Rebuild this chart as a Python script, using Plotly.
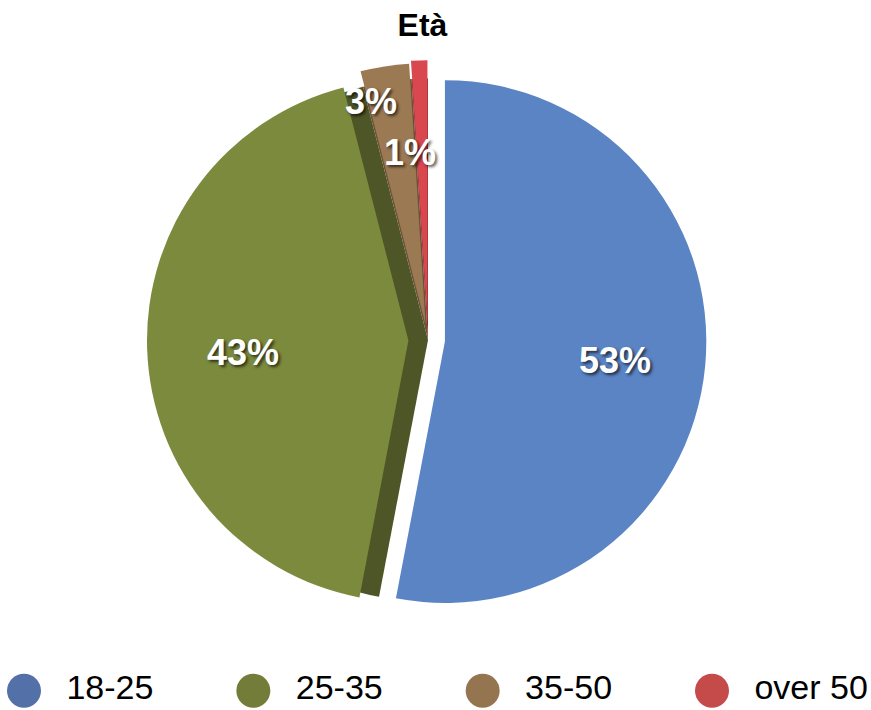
import math
import plotly.graph_objects as go

# ---- data ----
categories = ["18-25", "25-35", "35-50", "over 50"]
values = [53, 43, 3, 1]
title_text = "Età"

# ---- style ----
face_colors = ["#5b84c5", "#7c8a3d", "#9b7a53", "#d9474f"]
side_colors = ["rgba(0,0,0,0)", "#4e5627", "#6b5235", "#8c2b31"]
legend_colors = ["#5470a8", "#737c38", "#957450", "#c54a4a"]
pulls = [0.065, 0.075, 0.06, 0.07]

W, H = 871, 710
cx_px, cy_px = 428, 340
half = 281
dom_x = [(cx_px - half) / W, (cx_px + half) / W]
dom_y = [1 - (cy_px + half) / H, 1 - (cy_px - half) / H]
R = half / (1 + max(pulls))

shadow = "2px 2px 3px rgba(0,0,0,0.65)"
lab_font = dict(family="Liberation Sans", size=36, color="white", weight="bold", shadow=shadow)

fig = go.Figure()

# back (extrusion side) pie
fig.add_trace(go.Pie(
    labels=categories, values=values, sort=False, direction="clockwise", rotation=0,
    marker=dict(colors=side_colors, line=dict(width=0)),
    pull=[max(pulls), 0, 0, 0], textinfo="none", hoverinfo="skip",
    domain=dict(x=dom_x, y=dom_y), showlegend=False,
))

# front pie
fig.add_trace(go.Pie(
    labels=categories, values=values, sort=False, direction="clockwise", rotation=0,
    marker=dict(colors=face_colors, line=dict(width=0)),
    pull=pulls, textinfo="none", hoverinfo="label+percent",
    domain=dict(x=dom_x, y=dom_y), showlegend=False,
))

# percentage labels, placed from each slice's mid angle
total = sum(values)
cum = 0
label_place = {0: (1.0, 0.72), 1: (-2.0, 0.71), 2: (-4.5, 0.94), 3: (-3.8, 0.72)}
annotations = []
for i, v in enumerate(values):
    mid = (cum + v / 2) / total * 360
    cum += v
    dang, rf = label_place[i]
    th = math.radians(mid + dang)
    x = (cx_px + rf * R * math.sin(th)) / W
    y = 1 - (cy_px - rf * R * math.cos(th)) / H
    annotations.append(dict(
        x=x, y=y, xref="paper", yref="paper", showarrow=False,
        text=f"{round(v / total * 100)}%", font=lab_font,
        xanchor="center", yanchor="middle",
    ))

# legend drawn as a row of circles with labels
idx = list(range(len(categories)))
fig.add_trace(go.Scatter(
    x=idx, y=[0] * len(idx), mode="markers",
    marker=dict(size=34, color=legend_colors, symbol="circle", line=dict(width=0)),
    xaxis="x", yaxis="y", hoverinfo="skip", showlegend=False,
))
fig.add_trace(go.Scatter(
    x=[i + 0.185 for i in idx], y=[0] * len(idx), mode="text",
    text=categories, textposition="middle right",
    textfont=dict(family="Liberation Sans", size=34, color="black"),
    xaxis="x", yaxis="y", hoverinfo="skip", showlegend=False,
))

px_per_unit = (712 - 24) / 3
fig.update_layout(
    width=W, height=H,
    margin=dict(l=0, r=0, t=0, b=0),
    paper_bgcolor="white", plot_bgcolor="white",
    showlegend=False,
    title=dict(text=title_text, x=0.485, xanchor="center", y=1 - 25 / H, yanchor="middle",
               font=dict(family="Liberation Sans", size=32, color="black", weight="bold")),
    xaxis=dict(domain=[0, 1], range=[-24 / px_per_unit, (W - 24) / px_per_unit],
               visible=False, fixedrange=True),
    yaxis=dict(domain=[0, 0.054], range=[-1, 1], visible=False, fixedrange=True),
    annotations=annotations,
)

fig.write_html("out.html")
